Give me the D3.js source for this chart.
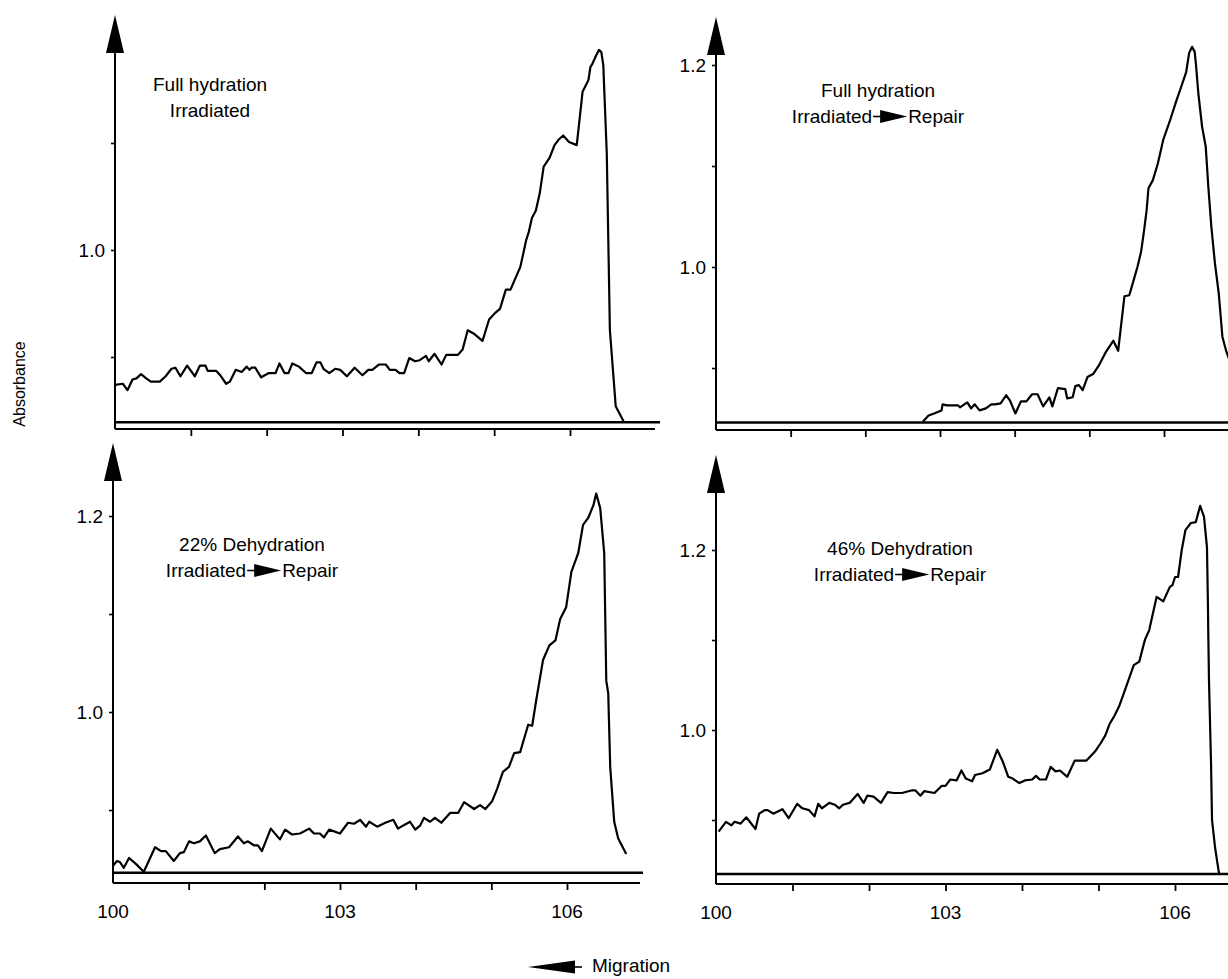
<!DOCTYPE html>
<html>
<head>
<meta charset="utf-8">
<script src="https://cdn.jsdelivr.net/npm/d3@7"></script>
<style>
  body { margin: 0; background: #fff; }
  svg { display: block; }
  text { font-family: "Liberation Sans", Arial, Helvetica, sans-serif; fill: #000; }
</style>
</head>
<body>
<svg id="chart" width="1228" height="979"></svg>
<script>
// ---- data (migration position, absorbance) ----
var xTicks = [101, 102, 103, 104, 105, 106];
var xTickLabels = [100, 103, 106];
var yTicks = [0.9, 1.0, 1.1, 1.2];
var yTickLabels = [1.0, 1.2];
var baselineLevels = [0.839, 0.846, 0.836, 0.840];

var fullIrradiated = [
  [100.000,0.874],[100.103,0.875],[100.164,0.869],[100.231,0.879],[100.283,0.880],[100.344,0.884],[100.411,0.880],[100.473,0.877],
  [100.591,0.877],[100.668,0.882],[100.745,0.889],[100.797,0.890],[100.863,0.882],[100.951,0.892],[101.053,0.882],[101.120,0.892],
  [101.192,0.892],[101.223,0.887],[101.336,0.887],[101.387,0.883],[101.465,0.875],[101.516,0.877],[101.593,0.888],[101.670,0.886],
  [101.737,0.891],[101.773,0.888],[101.799,0.890],[101.850,0.890],[101.927,0.881],[102.030,0.885],[102.117,0.885],[102.169,0.894],
  [102.235,0.885],[102.287,0.885],[102.338,0.894],[102.425,0.891],[102.518,0.885],[102.595,0.885],[102.657,0.895],[102.708,0.895],
  [102.749,0.889],[102.826,0.885],[102.903,0.889],[102.970,0.888],[103.058,0.882],[103.160,0.890],[103.263,0.883],[103.340,0.888],
  [103.392,0.888],[103.484,0.893],[103.571,0.893],[103.623,0.888],[103.700,0.888],[103.751,0.885],[103.813,0.885],[103.880,0.899],
  [103.957,0.896],[104.018,0.897],[104.101,0.901],[104.137,0.896],[104.214,0.903],[104.306,0.893],[104.368,0.902],[104.445,0.902],
  [104.522,0.902],[104.584,0.907],[104.651,0.925],[104.728,0.922],[104.846,0.915],[104.933,0.935],[105.010,0.941],[105.077,0.945],
  [105.154,0.963],[105.216,0.963],[105.252,0.969],[105.344,0.984],[105.385,0.997],[105.421,1.009],[105.457,1.017],[105.498,1.030],
  [105.550,1.037],[105.601,1.053],[105.653,1.078],[105.730,1.086],[105.796,1.098],[105.848,1.103],[105.910,1.107],[105.987,1.101],
  [106.089,1.098],[106.166,1.148],[106.244,1.159],[106.269,1.171],[106.295,1.174],[106.346,1.182],[106.382,1.187],[106.413,1.185],
  [106.439,1.173],[106.485,1.090],[106.526,0.925],[106.603,0.854],[106.706,0.840]
];

var fullRepair = [
  [102.772,0.847],[102.847,0.853],[102.921,0.855],[103.020,0.858],[103.035,0.864],[103.094,0.863],[103.168,0.863],[103.243,0.863],
  [103.267,0.861],[103.366,0.866],[103.416,0.860],[103.465,0.864],[103.530,0.858],[103.614,0.860],[103.688,0.864],[103.738,0.864],
  [103.812,0.865],[103.886,0.873],[103.936,0.868],[104.010,0.855],[104.084,0.867],[104.158,0.867],[104.233,0.874],[104.307,0.874],
  [104.381,0.862],[104.465,0.871],[104.505,0.862],[104.579,0.880],[104.678,0.879],[104.703,0.870],[104.777,0.871],[104.812,0.882],
  [104.861,0.883],[104.911,0.878],[104.975,0.891],[105.050,0.894],[105.124,0.902],[105.223,0.916],[105.322,0.927],[105.386,0.917],
  [105.470,0.971],[105.535,0.972],[105.594,0.987],[105.644,1.000],[105.693,1.015],[105.733,1.036],[105.767,1.056],[105.792,1.078],
  [105.851,1.086],[105.916,1.102],[105.990,1.126],[106.089,1.147],[106.163,1.164],[106.238,1.180],[106.297,1.193],[106.337,1.212],
  [106.376,1.218],[106.411,1.213],[106.426,1.202],[106.460,1.172],[106.510,1.139],[106.559,1.119],[106.594,1.079],[106.634,1.040],
  [106.683,1.003],[106.733,0.974],[106.782,0.931],[106.832,0.917],[106.871,0.909]
];

var dehydration22 = [
  [100.000,0.843],[100.053,0.848],[100.090,0.847],[100.143,0.841],[100.212,0.851],[100.302,0.845],[100.407,0.837],[100.556,0.862],
  [100.635,0.858],[100.698,0.858],[100.804,0.848],[100.884,0.856],[100.937,0.857],[101.005,0.868],[101.069,0.866],[101.148,0.868],
  [101.228,0.874],[101.344,0.856],[101.413,0.860],[101.534,0.862],[101.651,0.873],[101.730,0.866],[101.783,0.868],[101.862,0.864],
  [101.915,0.864],[101.968,0.858],[102.085,0.881],[102.206,0.870],[102.275,0.880],[102.365,0.875],[102.471,0.876],[102.593,0.881],
  [102.656,0.876],[102.735,0.876],[102.788,0.872],[102.857,0.880],[103.000,0.876],[103.106,0.887],[103.185,0.886],[103.265,0.890],
  [103.344,0.883],[103.386,0.888],[103.492,0.883],[103.598,0.887],[103.704,0.890],[103.767,0.881],[103.831,0.884],[103.926,0.888],
  [103.995,0.880],[104.058,0.884],[104.111,0.892],[104.190,0.888],[104.254,0.892],[104.339,0.887],[104.455,0.897],[104.561,0.897],
  [104.640,0.908],[104.772,0.901],[104.852,0.905],[104.921,0.901],[105.011,0.909],[105.079,0.922],[105.153,0.939],[105.233,0.944],
  [105.302,0.958],[105.381,0.959],[105.487,0.987],[105.540,0.986],[105.593,1.012],[105.683,1.053],[105.767,1.068],[105.847,1.073],
  [105.910,1.095],[105.989,1.107],[106.058,1.143],[106.148,1.162],[106.212,1.191],[106.280,1.198],[106.349,1.211],[106.386,1.223],
  [106.439,1.208],[106.492,1.162],[106.519,1.032],[106.545,1.019],[106.571,0.944],[106.624,0.888],[106.677,0.871],[106.783,0.855]
];

var dehydration46 = [
  [100.034,0.887],[100.130,0.898],[100.203,0.894],[100.241,0.898],[100.323,0.896],[100.396,0.903],[100.516,0.890],[100.564,0.907],
  [100.637,0.911],[100.675,0.911],[100.748,0.907],[100.868,0.912],[100.950,0.902],[101.061,0.918],[101.129,0.913],[101.216,0.911],
  [101.288,0.904],[101.336,0.918],[101.384,0.913],[101.481,0.919],[101.553,0.917],[101.611,0.913],[101.659,0.917],[101.746,0.919],
  [101.852,0.929],[101.930,0.919],[101.978,0.927],[102.060,0.926],[102.156,0.919],[102.243,0.931],[102.325,0.930],[102.431,0.930],
  [102.566,0.933],[102.605,0.933],[102.672,0.927],[102.721,0.932],[102.856,0.930],[102.952,0.938],[103.000,0.938],[103.063,0.945],
  [103.145,0.944],[103.208,0.955],[103.266,0.946],[103.348,0.943],[103.386,0.950],[103.483,0.952],[103.579,0.956],[103.676,0.978],
  [103.748,0.965],[103.821,0.948],[103.878,0.946],[103.965,0.941],[104.038,0.944],[104.134,0.945],[104.182,0.949],[104.231,0.945],
  [104.313,0.945],[104.375,0.959],[104.438,0.954],[104.496,0.955],[104.592,0.948],[104.689,0.966],[104.761,0.966],[104.843,0.966],
  [104.954,0.976],[105.026,0.985],[105.089,0.994],[105.147,1.007],[105.210,1.016],[105.268,1.026],[105.340,1.043],[105.461,1.072],
  [105.533,1.076],[105.606,1.100],[105.663,1.111],[105.760,1.148],[105.847,1.143],[105.933,1.159],[105.967,1.161],[106.001,1.170],
  [106.040,1.170],[106.088,1.200],[106.136,1.222],[106.208,1.230],[106.271,1.231],[106.329,1.249],[106.379,1.237],[106.418,1.203],
  [106.431,1.137],[106.435,1.108],[106.444,1.056],[106.471,0.963],[106.484,0.900],[106.523,0.870],[106.562,0.848],[106.575,0.841]
];

var panels = [
  { title: ["Full hydration", "Irradiated"], repair: false, data: fullIrradiated, base: baselineLevels[0], xLabels: false },
  { title: ["Full hydration", "Irradiated"], repair: true, data: fullRepair, base: baselineLevels[1], xLabels: false },
  { title: ["22% Dehydration", "Irradiated"], repair: true, data: dehydration22, base: baselineLevels[2], xLabels: true },
  { title: ["46% Dehydration", "Irradiated"], repair: true, data: dehydration46, base: baselineLevels[3], xLabels: true }
];

// ---- layout (pixels) ----
var layout = [
  { x100: 115, x106: 570, y10: 250, y12: 36, tipY: 15, axisY: 429, axisEnd: 655, baseEnd: 660, tx: 210, ty: 91 },
  { x100: 716, x106: 1164, y10: 267, y12: 65, tipY: 17, axisY: 430, axisEnd: 1240, baseEnd: 1240, tx: 878, ty: 97 },
  { x100: 113, x106: 567, y10: 712, y12: 516, tipY: 443, axisY: 883, axisEnd: 640, baseEnd: 643, tx: 252, ty: 551 },
  { x100: 716, x106: 1175, y10: 730, y12: 550, tipY: 455, axisY: 884, axisEnd: 1240, baseEnd: 1240, tx: 900, ty: 555 }
];

var svg = d3.select("#chart");
var fontSize = 19;

function arrowGlyph(g, ax, midY, len, dir) {
  // short shaft plus a long filled wedge, like the ones in the figure
  var tip = ax + dir * len, back = ax + dir * 7;
  g.append("line")
    .attr("x1", ax).attr("x2", ax + dir * 14)
    .attr("y1", midY).attr("y2", midY)
    .attr("stroke", "#000").attr("stroke-width", 1.6);
  g.append("path")
    .attr("d", "M" + back + "," + (midY - 6.5) + "L" + tip + "," + midY + "L" + back + "," + (midY + 6.5) + "Z")
    .attr("fill", "#000");
}

panels.forEach(function(p, i) {
  var L = layout[i];
  var x = d3.scaleLinear().domain([100, 106]).range([L.x100, L.x106]);
  var y = d3.scaleLinear().domain([1.0, 1.2]).range([L.y10, L.y12]);
  var g = svg.append("g");

  // reference line
  g.append("line")
    .attr("x1", x(100)).attr("x2", L.baseEnd)
    .attr("y1", y(p.base)).attr("y2", y(p.base))
    .attr("stroke", "#000").attr("stroke-width", 2.4);

  // x axis
  g.append("line")
    .attr("x1", x(100)).attr("x2", L.axisEnd)
    .attr("y1", L.axisY).attr("y2", L.axisY)
    .attr("stroke", "#000").attr("stroke-width", 2);
  var xa = g.append("g")
    .attr("transform", "translate(0," + L.axisY + ")")
    .call(d3.axisBottom(x).tickValues(xTicks).tickSize(7).tickFormat(""));
  xa.select(".domain").remove();
  xa.selectAll("line").attr("stroke", "#000").attr("stroke-width", 1.8);

  if (p.xLabels) {
    g.selectAll(null).data(xTickLabels).join("text")
      .attr("x", function(d) { return x(d); })
      .attr("y", L.axisY + 35)
      .attr("text-anchor", "middle")
      .attr("font-size", fontSize)
      .text(function(d) { return d; });
  }

  // y axis with arrow
  g.append("line")
    .attr("x1", x(100)).attr("x2", x(100))
    .attr("y1", L.tipY + 30).attr("y2", L.axisY)
    .attr("stroke", "#000").attr("stroke-width", 2);
  g.append("path")
    .attr("d", "M" + (x(100) - 9) + "," + (L.tipY + 38) + "L" + x(100) + "," + L.tipY + "L" + (x(100) + 9) + "," + (L.tipY + 38) + "Z")
    .attr("fill", "#000");

  var shown = yTicks.filter(function(v) { return y(v) > L.tipY + 42 && y(v) < L.axisY - 10; });
  var ya = g.append("g")
    .attr("transform", "translate(" + x(100) + ",0)")
    .call(d3.axisLeft(y).tickValues(shown).tickSize(4).tickPadding(6)
      .tickFormat(function(v) { return yTickLabels.indexOf(v) >= 0 ? d3.format(".1f")(v) : ""; }));
  ya.select(".domain").remove();
  ya.selectAll("line").attr("stroke", "#000").attr("stroke-width", 1.6);
  ya.selectAll("text")
    .attr("font-size", fontSize)
    .attr("font-family", '"Liberation Sans", Arial, sans-serif')
    .attr("fill", "#000");

  // trace
  g.append("path")
    .datum(p.data)
    .attr("d", d3.line().x(function(d) { return x(d[0]); }).y(function(d) { return y(d[1]); }))
    .attr("fill", "none")
    .attr("stroke", "#000")
    .attr("stroke-width", 2.2)
    .attr("stroke-linejoin", "round");

  // titles
  g.append("text")
    .attr("x", L.tx).attr("y", L.ty)
    .attr("text-anchor", "middle")
    .attr("font-size", fontSize)
    .text(p.title[0]);
  var y2 = L.ty + 26;
  if (!p.repair) {
    g.append("text")
      .attr("x", L.tx).attr("y", y2)
      .attr("text-anchor", "middle")
      .attr("font-size", fontSize)
      .text(p.title[1]);
  } else {
    var t1 = g.append("text").attr("y", y2).attr("font-size", fontSize).text(p.title[1]);
    var t2 = g.append("text").attr("y", y2).attr("font-size", fontSize).text("Repair");
    var w1 = t1.node().getComputedTextLength();
    var w2 = t2.node().getComputedTextLength();
    var aw = 34;
    var start = L.tx - (w1 + aw + w2 + 2) / 2;
    t1.attr("x", start);
    arrowGlyph(g, start + w1 + 1, y2 - 6.5, aw, 1);
    t2.attr("x", start + w1 + aw + 2);
  }
});

// shared axis titles
svg.append("text")
  .attr("transform", "translate(25,384) rotate(-90)")
  .attr("text-anchor", "middle")
  .attr("font-size", 16)
  .text("Absorbance");

arrowGlyph(svg, 582, 967, 54, -1);
svg.append("text")
  .attr("x", 592).attr("y", 972)
  .attr("font-size", fontSize)
  .text("Migration");
</script>
</body>
</html>
